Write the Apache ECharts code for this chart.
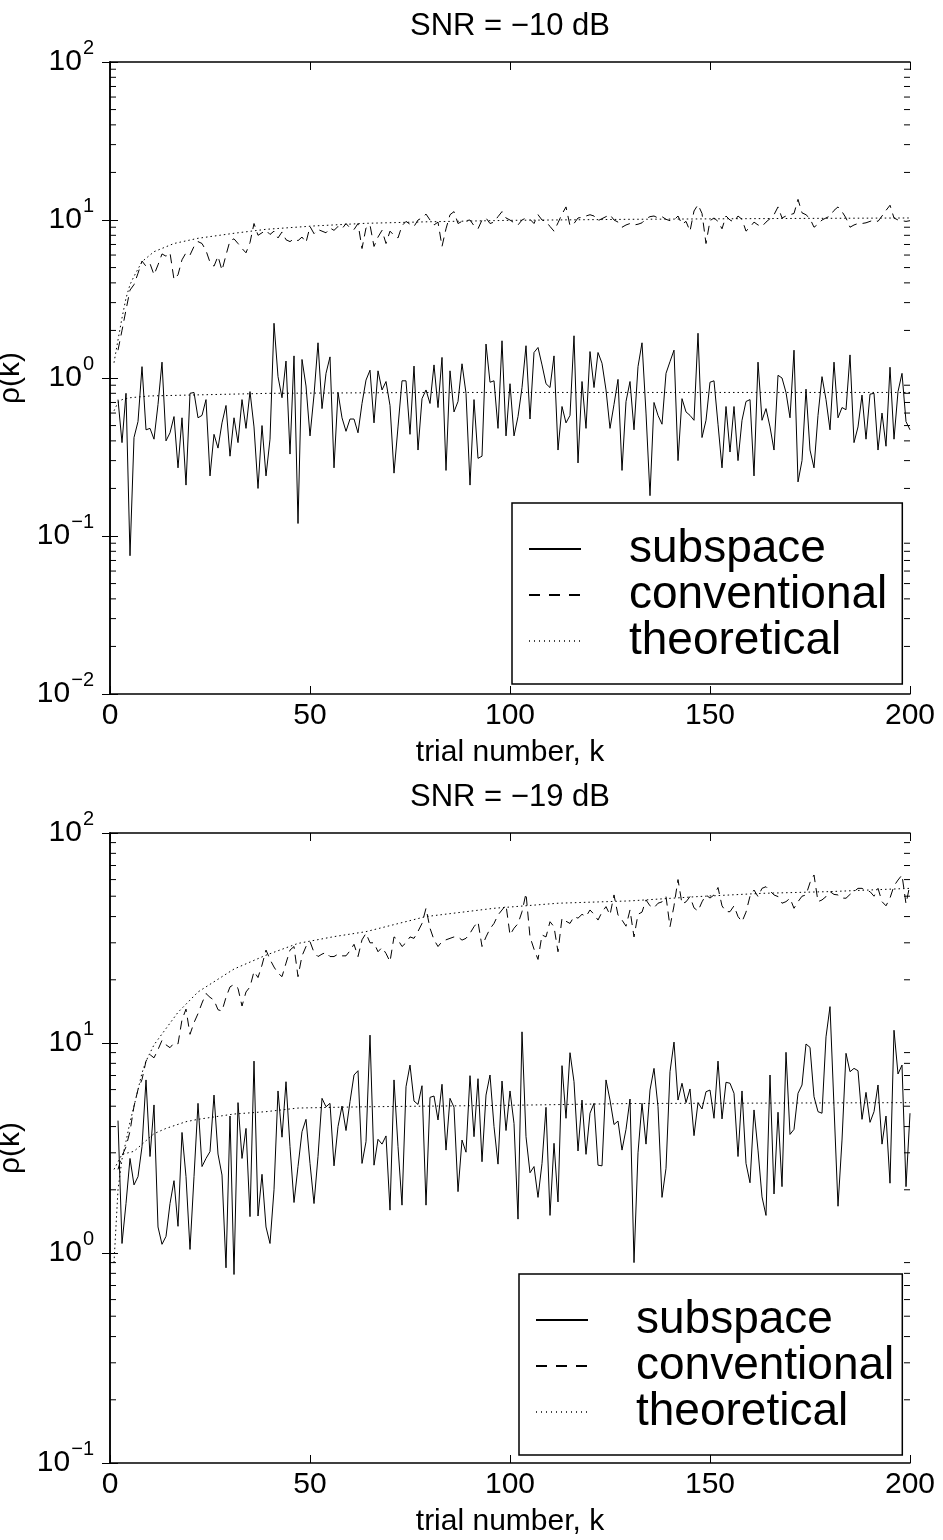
<!DOCTYPE html>
<html>
<head>
<meta charset="utf-8">
<script src="https://cdn.jsdelivr.net/npm/echarts@6/dist/echarts.min.js"></script>
<style>
html,body{margin:0;padding:0;background:#fff;}
#main{width:943px;height:1540px;}
</style>
</head>
<body>
<div id="main"></div>
<script>
//试验序号从2开始
var firstTrial = 2;

//上图 SNR=-10dB
var topSubspace = [0.73,0.39,0.80,0.075,0.42,0.53,1.18,0.47,0.48,
	0.41,0.68,1.26,0.40,0.45,0.57,0.27,0.56,0.21,0.80,
	0.81,0.56,0.58,0.73,0.24,0.44,0.36,0.52,0.67,0.32,
	0.56,0.39,0.73,0.48,0.82,0.49,0.20,0.50,0.24,0.41,
	2.22,1.02,0.75,1.28,0.33,1.38,0.12,1.31,0.89,0.43,
	0.78,1.67,0.64,1.07,1.36,0.27,0.81,0.56,0.46,0.55,
	0.55,0.45,0.69,0.97,1.12,
	0.52,1.11,0.84,0.95,0.67,
	0.25,0.49,0.96,0.96,0.44,1.19,0.35,0.74,0.84,0.69,
	1.21,0.65,1.35,0.26,1.11,0.61,0.71,1.23,0.80,0.21,
	0.73,0.31,0.32,1.64,0.94,0.96,0.48,1.72,0.43,0.92,
	0.43,0.57,0.87,1.60,0.55,1.45,1.56,1.21,0.92,0.87,
	1.38,0.35,0.66,0.52,0.58,1.85,0.29,0.95,0.48,1.47,
	0.87,1.45,1.24,0.84,0.48,0.68,0.98,0.26,0.71,0.95,
	0.47,1.18,
	1.67,0.60,0.18,0.70,0.58,0.51,1.07,1.27,
	1.50,0.30,0.74,0.61,0.58,0.54,1.92,0.42,0.54,0.94,
	0.96,0.51,0.27,0.66,0.34,0.66,0.30,0.54,0.71,0.73,
	0.24,1.26,0.54,0.64,0.49,0.35,1.04,1.00,0.81,0.56,
	1.50,0.22,0.30,0.85,0.35,0.27,0.58,1.02,0.73,0.47,
	1.26,0.56,0.65,0.63,1.40,0.39,0.49,0.78,0.41,0.79,
	0.80,0.35,0.60,0.37,1.17,0.41,0.82,1.07,0.53,0.47];

var topConventional = [1.5,2.0,2.7,3.6,3.9,4.6,5.5,5.1,5.3,
	4.5,5.2,6.1,5.9,6.2,4.2,4.5,5.6,6.2,6.0,
	6.8,7.3,7.1,6.4,5.4,5.1,5.9,4.8,6.0,7.4,
	7.6,7.1,6.6,6.2,7.2,9.5,8.0,8.3,8.6,8.1,
	8.5,7.7,8.4,7.5,7.3,7.6,7.4,7.8,7.2,9.1,
	8.2,8.7,8.5,8.3,8.9,8.6,9.1,8.8,9.5,8.9,
	8.7,9.5,6.6,8.9,9.3,
	6.8,7.8,8.6,7.1,8.5,
	8.0,7.7,9.2,9.8,9.4,9.1,10.0,10.3,10.9,10.0,
	9.3,9.7,6.8,8.8,10.8,11.3,9.5,9.8,9.9,10.0,
	9.2,8.8,10.0,10.3,9.5,9.7,10.5,11.3,10.3,10.0,
	9.6,9.3,10.0,10.3,10.1,9.5,10.8,10.0,9.8,9.1,
	8.5,9.6,10.9,12.1,9.2,9.5,10.3,10.4,10.6,10.8,
	10.6,9.9,10.2,10.5,10.8,10.0,9.7,9.0,9.3,9.5,
	9.3,9.4,
	9.6,10.2,10.5,10.6,10.3,10.5,10.1,9.9,
	10.0,10.6,9.4,9.8,8.5,11.4,12.5,11.0,7.1,9.9,
	10.3,9.8,8.8,10.6,10.0,9.7,10.6,10.1,8.5,9.0,
	9.7,9.3,9.1,9.7,10.2,10.8,12.1,10.3,10.6,10.8,
	11.0,13.5,11.1,10.8,10.2,9.0,9.4,10.0,10.3,10.6,
	11.5,12.1,11.3,10.3,9.0,9.3,9.5,9.5,9.6,9.8,
	10.0,9.8,10.6,11.5,12.4,10.3,10.0,9.9,9.8,9.9];

var topTheoryConvK = [1,2,3,4,5,6,8,11,16,22,31,39,51,64,80,100,130,160,200];
var topTheoryConv = [1.25,1.74,2.4,3.2,3.9,4.4,5.45,6.3,7.1,7.66,8.24,8.73,9.17,9.53,9.75,9.95,10.1,10.2,10.3];
var topTheorySubK = [1,2,3,5,10,20,40,80,200];
var topTheorySub = [0.62,0.70,0.73,0.75,0.77,0.78,0.80,0.81,0.81];

//下图 SNR=-19dB
var bottomSubspace = [4.27,1.11,1.72,2.82,2.11,2.31,3.21,6.67,2.88,
	5.07,1.33,1.10,1.20,1.72,2.21,1.34,3.75,2.31,1.04,
	2.31,5.16,2.58,2.82,3.04,5.65,2.96,2.35,0.85,4.49,
	0.79,5.20,2.82,3.92,1.49,8.20,1.50,2.37,1.33,1.11,
	2.00,5.91,3.56,6.54,3.21,1.74,2.58,3.78,4.33,2.67,
	1.72,2.88,5.45,4.97,5.16,2.60,4.00,5.01,3.83,5.26,
	7.04,7.38,2.67,3.39,10.9,
	2.62,3.48,3.30,3.61,1.60,
	6.67,3.21,1.69,6.19,7.85,5.29,5.10,6.26,1.69,5.51,
	5.59,4.30,6.36,3.09,5.45,4.94,1.96,3.45,3.02,6.99,
	3.58,6.76,2.72,5.65,7.04,4.00,2.65,6.59,3.83,5.91,
	4.14,1.45,11.3,3.58,2.41,2.58,1.84,2.67,4.94,1.51,
	3.33,1.75,7.80,4.38,8.99,6.54,3.06,5.35,2.95,4.63,
	5.16,2.62,2.60,6.67,5.35,4.09,4.25,3.09,3.88,5.41,
	0.90,3.00,
	5.16,3.30,5.97,7.57,4.97,1.84,2.53,7.30,
	10.1,5.35,6.43,5.20,6.04,3.62,5.20,4.85,5.86,5.97,
	4.38,8.20,4.35,6.50,6.43,5.76,2.88,5.91,2.67,2.16,
	4.80,3.09,1.85,1.51,7.04,1.91,4.68,2.07,9.03,3.67,
	3.88,5.76,6.31,9.89,9.53,5.55,4.71,4.63,10.7,14.9,
	4.97,1.67,3.45,8.93,7.30,7.57,7.38,4.33,5.82,4.19,
	4.71,6.31,3.30,4.49,2.15,11.5,7.12,7.85,2.07,4.63];

var bottomConventional = [2.5,2.9,3.2,3.8,5.0,6.0,6.7,8.2,8.8,
	8.5,9.3,10.3,9.8,9.5,10.0,9.9,12.9,14.5,11.0,
	12.5,13.8,15.5,17.2,16.5,16.0,14.4,14.2,16.5,18.5,
	19.0,18.2,15.0,17.5,18.5,21.9,20.5,23.5,27.7,25.0,
	23.0,21.5,20.7,24.0,27.7,28.8,20.7,26.0,28.8,30.4,
	27.0,25.8,26.5,27.0,25.8,25.8,26.5,26.0,26.0,27.5,
	29.5,25.8,31.0,33.3,30.0,
	30.0,27.2,28.5,26.7,24.4,
	32.0,31.0,28.8,30.0,32.0,31.5,34.0,37.1,43.8,35.2,
	31.0,28.8,30.4,31.0,31.5,32.0,32.0,30.9,31.5,33.3,
	35.8,37.8,28.8,32.0,35.0,37.1,40.7,43.0,45.4,32.7,
	35.2,37.0,42.2,51.6,32.0,28.0,25.0,32.7,32.0,37.8,
	35.8,27.2,39.3,38.0,37.1,40.0,39.3,41.0,40.0,43.0,
	41.0,38.5,42.0,44.6,40.7,50.7,40.7,38.5,36.0,43.0,
	32.0,41.0,
	42.0,48.0,45.0,44.0,46.3,47.0,49.8,35.8,
	45.0,60.0,46.0,47.0,49.8,44.0,42.5,47.0,50.7,49.0,
	50.7,55.0,45.0,42.2,42.2,45.0,40.0,37.8,42.0,50.0,
	53.5,49.8,54.5,55.5,53.0,50.7,49.8,46.3,47.1,48.9,
	43.8,47.1,50.0,50.7,58.0,63.1,47.1,48.0,49.8,52.6,
	51.0,50.7,49.0,48.9,51.0,52.6,54.5,54.5,53.0,52.6,
	50.0,54.5,47.1,45.0,49.0,56.0,59.7,63.1,46.0,57.0];

var bottomTheoryConvK = [1,2,3,4,5,6,7,8,9,11,12,17,22,31,39,47,56,64,79,96,112,130,147,163,180,200];
var bottomTheoryConv = [0.9,2.0,2.8,3.4,4.2,5.0,6.0,7.2,8.2,9.8,10.4,14.0,17.5,22.5,26.2,29.8,32.1,33.9,40.0,43.8,46.3,47.5,49.8,51.6,52.6,54.5];
var bottomTheorySubK = [1,3,6,11,14,19,22,31,39,47,56,64,100,130,200];
var bottomTheorySub = [2.5,2.95,3.05,3.7,3.92,4.22,4.33,4.59,4.71,4.9,4.94,4.97,5.05,5.15,5.2];

//坐标轴刻度
var xTicks = [0,50,100,150,200];
var minorSteps = [2,3,4,5,6,7,8,9];
var topDecades = [0.01,0.1,1,10];
var bottomDecades = [0.1,1,10];

var fontName = 'Liberation Sans, Arial, Helvetica, sans-serif';
var legendNames = ['subspace','conventional','theoretical'];

function trialPairs(vals){
	var out = [];
	for(var i=0;i<vals.length;i++){
		out.push([firstTrial+i, vals[i]]);
	}
	return out;
}
function zipPairs(ks, vals){
	var out = [];
	for(var i=0;i<ks.length;i++){
		out.push([ks[i], vals[i]]);
	}
	return out;
}
function minorList(decades){
	var out = [];
	for(var i=0;i<decades.length;i++){
		for(var j=0;j<minorSteps.length;j++){
			out.push([xTicks[0], decades[i]*minorSteps[j]]);
		}
	}
	return out;
}

//对数坐标标签 10^n
function expLabel(v){
	var e = Math.round(Math.log(v)/Math.LN10);
	var s = e<0 ? '\u2212'+(-e) : ''+e;
	return '{b|10}{s|'+s+'}';
}

function xAxes(gi){
	return [{
		type:'value', gridIndex:gi, position:'bottom', min:0, max:200, interval:50,
		name:'trial number, k', nameLocation:'middle', nameGap:44,
		nameTextStyle:{fontSize:30, fontFamily:fontName, color:'#000', verticalAlign:'top'},
		axisLine:{lineStyle:{color:'#000', width:1.5}},
		axisTick:{inside:true, length:8, lineStyle:{color:'#000'}},
		axisLabel:{fontSize:30, fontFamily:fontName, color:'#000', margin:7},
		splitLine:{show:false}
	},{
		type:'value', gridIndex:gi, position:'top', min:0, max:200, interval:50,
		axisLine:{lineStyle:{color:'#000', width:1.5}},
		axisTick:{inside:true, length:8, lineStyle:{color:'#000'}},
		axisLabel:{show:false},
		splitLine:{show:false}
	}];
}
function yAxes(gi, lo, hi){
	return [{
		type:'log', logBase:10, gridIndex:gi, position:'left', min:lo, max:hi,
		name:'\u03c1(k)', nameLocation:'middle', nameGap:72,
		nameTextStyle:{fontSize:30, fontFamily:fontName, color:'#000'},
		axisLine:{lineStyle:{color:'#000', width:1.5}},
		axisTick:{inside:true, length:8, lineStyle:{color:'#000'}},
		axisLabel:{
			margin:16, color:'#000', formatter:expLabel,
			rich:{
				b:{fontSize:30, fontFamily:fontName, color:'#000', lineHeight:44},
				s:{fontSize:20, fontFamily:fontName, color:'#000', lineHeight:44, padding:[0,0,28,1]}
			}
		},
		splitLine:{show:false}
	},{
		type:'log', logBase:10, gridIndex:gi, position:'right', min:lo, max:hi,
		axisLine:{lineStyle:{color:'#000', width:1.5}},
		axisTick:{inside:true, length:8, lineStyle:{color:'#000'}},
		axisLabel:{show:false},
		splitLine:{show:false}
	}];
}

function lineSeries(name, data, xi, yi, dash){
	return {
		name:name, type:'line', data:data, xAxisIndex:xi, yAxisIndex:yi,
		symbol:'none', showSymbol:false, silent:true, animation:false,
		itemStyle:{color:'rgba(0,0,0,0)', borderColor:'rgba(0,0,0,0)', borderWidth:0},
		lineStyle:{color:'#000', width:1, type:dash}
	};
}

//小刻度 (左右两侧)
function minorSeries(data, xi, yi){
	return {
		type:'custom', xAxisIndex:xi, yAxisIndex:yi, data:data, silent:true, animation:false,
		renderItem:function(params, api){
			var v = api.value(1);
			var pL = api.coord([xTicks[0], v]);
			var pR = api.coord([xTicks[xTicks.length-1], v]);
			return {type:'group', children:[
				{type:'line', shape:{x1:pL[0], y1:pL[1], x2:pL[0]+6, y2:pL[1]}, style:{stroke:'#000', lineWidth:1}},
				{type:'line', shape:{x1:pR[0]-6, y1:pR[1], x2:pR[0], y2:pR[1]}, style:{stroke:'#000', lineWidth:1}}
			]};
		}
	};
}

//图例 (MATLAB样式的方框)
function legendBox(top, left, padRight){
	return {
		data:[
			{name:legendNames[0]},
			{name:legendNames[1], lineStyle:{type:[11,9]}},
			{name:legendNames[2], lineStyle:{type:[1,4], color:'#444'}}
		],
		orient:'vertical', left:left, top:top, selectedMode:false,
		backgroundColor:'#fff', borderColor:'#000', borderWidth:1.5,
		padding:[23,padRight,20,16], itemGap:0, itemWidth:52, itemHeight:14,
		itemStyle:{opacity:0},
		textStyle:{fontSize:46, fontFamily:fontName, color:'#000', lineHeight:44, padding:[0,0,0,43]}
	};
}

var dashType = [9,6];
var dotType = [1.5,3];

var option = {
	backgroundColor:'#fff',
	animation:false,
	grid:[
		{left:110, top:62, width:800, height:632, outerBoundsMode:'none'},
		{left:110, top:833, width:800, height:630, outerBoundsMode:'none'}
	],
	xAxis:xAxes(0).concat(xAxes(1)),
	yAxis:yAxes(0, 0.01, 100).concat(yAxes(1, 0.1, 100)),
	legend:[legendBox(503, 512, 15), legendBox(1274, 519, 8)],
	graphic:[
		{type:'text', x:510, y:26, style:{text:'SNR = \u221210 dB', fontSize:31, fontFamily:fontName, fill:'#000', align:'center', verticalAlign:'middle', textAlign:'center', textVerticalAlign:'middle'}},
		{type:'text', x:510, y:797, style:{text:'SNR = \u221219 dB', fontSize:31, fontFamily:fontName, fill:'#000', align:'center', verticalAlign:'middle', textAlign:'center', textVerticalAlign:'middle'}}
	],
	series:[
		lineSeries('subspace', trialPairs(topSubspace), 0, 0, 'solid'),
		lineSeries('conventional', trialPairs(topConventional), 0, 0, dashType),
		lineSeries('theoretical', zipPairs(topTheoryConvK, topTheoryConv), 0, 0, dotType),
		lineSeries('theoretical', zipPairs(topTheorySubK, topTheorySub), 0, 0, dotType),
		minorSeries(minorList(topDecades), 0, 0),
		lineSeries('subspace', trialPairs(bottomSubspace), 2, 2, 'solid'),
		lineSeries('conventional', trialPairs(bottomConventional), 2, 2, dashType),
		lineSeries('theoretical', zipPairs(bottomTheoryConvK, bottomTheoryConv), 2, 2, dotType),
		lineSeries('theoretical', zipPairs(bottomTheorySubK, bottomTheorySub), 2, 2, dotType),
		minorSeries(minorList(bottomDecades), 2, 2)
	]
};

var chart = echarts.init(document.getElementById('main'));
chart.setOption(option);
</script>
</body>
</html>
